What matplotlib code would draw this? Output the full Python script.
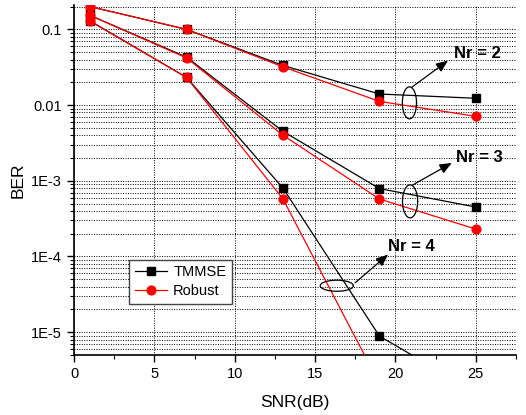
import numpy as np
import matplotlib
matplotlib.use("Agg")
import matplotlib.pyplot as plt
from matplotlib.ticker import FixedLocator, LogLocator, MultipleLocator, NullFormatter

plt.rcParams['font.family'] = ['Liberation Sans', 'DejaVu Sans']

snr = [1, 7, 13, 19, 25]

# TMMSE curves
tmmse_nr2 = [0.2, 0.1, 0.0334, 0.0140, 0.0123]
tmmse_nr3 = [0.153, 0.043, 0.0045, 7.9e-4, 4.5e-4]
tmmse_nr4 = [0.129, 0.0232, 8.0e-4, 8.9e-6, 1.6e-6]

# Robust curves
robust_nr2 = [0.2, 0.1, 0.032, 0.0112, 0.0071]
robust_nr3 = [0.153, 0.042, 0.0040, 5.75e-4, 2.3e-4]
robust_nr4 = [0.129, 0.0232, 5.75e-4, 2.1e-6, 1e-8]

yticks = [1e-5, 1e-4, 1e-3, 1e-2, 1e-1]
ytick_labels = ["1E-5", "1E-4", "1E-3", "0.01", "0.1"]
xticks = [0, 5, 10, 15, 20, 25]

# annotations: (text, text pos, arrow end, arrow start, ellipse center, half-width dB, half-height decades)
notes = [
    ("Nr = 2", (25.08, 0.0478), (23.27, 0.0387), (21.03, 0.0173), (20.87, 0.0107), 0.44, 0.211),
    ("Nr = 3", (25.23, 2.05e-3), (23.5, 1.72e-3), (21.1, 8.87e-4), (20.91, 5.35e-4), 0.47, 0.218),
    ("Nr = 4", (20.97, 1.35e-4), (19.54, 1.06e-4), (17.49, 4.5e-5), (16.35, 4.11e-5), 1.03, 0.073),
]

fig = plt.figure(figsize=(5.26, 4.15), dpi=100)
ax = fig.add_axes([0.1407, 0.1446, 0.8403, 0.8434])

lw = 0.9
for i, ys in enumerate([tmmse_nr2, tmmse_nr3, tmmse_nr4]):
    ax.plot(snr, ys, color="black", lw=lw, marker="s", ms=5.5,
            label="TMMSE" if i == 0 else None, zorder=3)
for i, ys in enumerate([robust_nr2, robust_nr3, robust_nr4]):
    ax.plot(snr, ys, color="#ff0000", lw=lw, marker="o", ms=6.3,
            label="Robust" if i == 0 else None, zorder=4)

ax.set_yscale("log")
ax.set_xlim(0, 27.5)
ax.set_ylim(5e-6, 0.21)

ax.yaxis.set_major_locator(FixedLocator(yticks))
ax.set_yticklabels(ytick_labels)
ax.yaxis.set_minor_locator(LogLocator(base=10, subs=np.arange(2, 10), numticks=20))
ax.yaxis.set_minor_formatter(NullFormatter())
ax.xaxis.set_major_locator(FixedLocator(xticks))
ax.xaxis.set_minor_locator(MultipleLocator(2.5))

ax.tick_params(which="major", direction="out", length=5, width=1, labelsize=10.5)
ax.tick_params(which="minor", direction="out", length=3, width=0.8)

dot = (0, (1, 1.5))
ax.grid(True, which="both", axis="y", color="black", ls=dot, lw=0.7)
ax.grid(True, which="major", axis="x", color="black", ls=dot, lw=0.7)
ax.set_axisbelow(True)

for s in ["top", "right"]:
    ax.spines[s].set_visible(False)
for s in ["left", "bottom"]:
    ax.spines[s].set_linewidth(1.2)

ax.set_xlabel("SNR(dB)", fontsize=12.5, labelpad=10)
ax.set_ylabel("BER", fontsize=12.5, labelpad=4)

t = np.linspace(0, 2 * np.pi, 100)
for text, tpos, aend, astart, c, a, b in notes:
    ex = c[0] + a * np.cos(t)
    ey = c[1] * 10 ** (b * np.sin(t))
    ax.plot(ex, ey, color="black", lw=0.9, zorder=5)
    ax.annotate("", xy=aend, xytext=astart,
                arrowprops=dict(arrowstyle="-|>,head_length=0.6,head_width=0.25",
                                color="black", lw=0.9,
                                mutation_scale=12, shrinkA=0, shrinkB=0), zorder=5)
    ax.text(tpos[0], tpos[1], text, fontsize=12, fontweight="bold",
            ha="center", va="center", zorder=6)

leg = ax.legend(loc="lower left", bbox_to_anchor=(0.109, 0.126), fontsize=10.5,
                fancybox=False, edgecolor="#444444", framealpha=1,
                handlelength=2.2, borderpad=0.4, labelspacing=0.3, handletextpad=0.4)
leg.get_frame().set_linewidth(1.0)

fig.savefig("out.png", dpi=100)
